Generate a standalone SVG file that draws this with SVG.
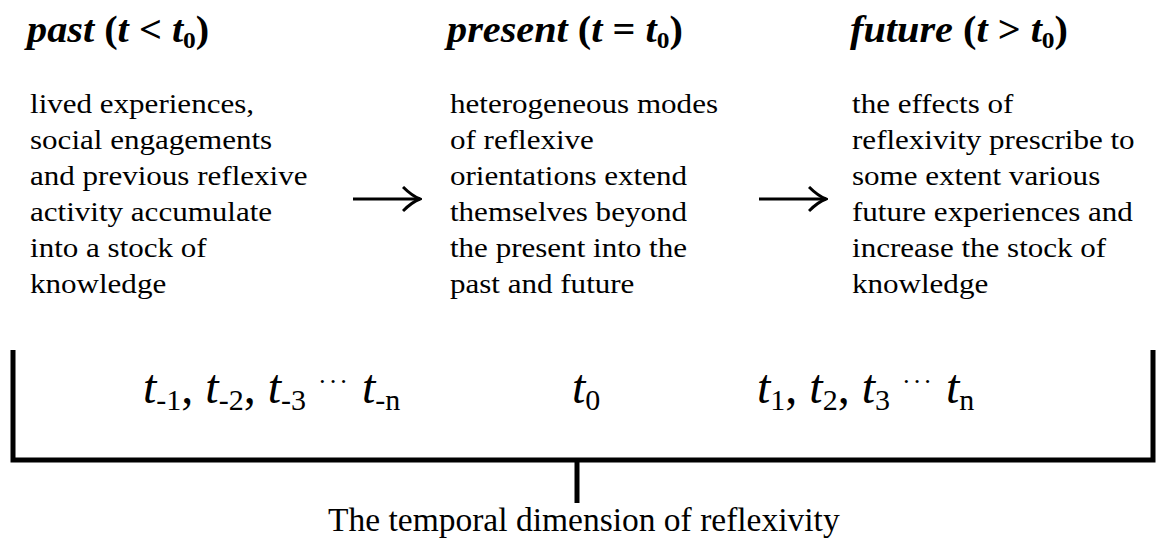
<svg xmlns="http://www.w3.org/2000/svg" width="1158" height="542" viewBox="0 0 1158 542">
<style>
.h{font-family:"Liberation Serif","Times New Roman",serif;font-size:38px;font-weight:bold;fill:#000}
.hi{font-style:italic}
.b{font-family:"Liberation Serif","Times New Roman",serif;font-size:27px;fill:#000}
.t{font-family:"Liberation Serif","Times New Roman",serif;font-size:48px;fill:#000}
.cap{font-family:"Liberation Serif","Times New Roman",serif;font-size:33.5px;fill:#000}
.ln{stroke:#000;stroke-width:5;fill:none}
.ar{stroke:#000;stroke-width:3;fill:none}
.dots{font-size:26px;letter-spacing:2px}
</style>
<defs>
<marker id="ah" markerWidth="20" markerHeight="28" refX="18" refY="13" orient="auto" markerUnits="userSpaceOnUse">
<path d="M1,1 Q10,10 18,13 Q10,16 1,25" fill="none" stroke="#000" stroke-width="3"/>
</marker>
</defs>
<g id="past">
<text class="h" transform="scale(1.06,1)" x="25.5" y="42"><tspan class="hi">past</tspan> (<tspan class="hi">t</tspan> &lt; <tspan class="hi">t</tspan><tspan font-size="24" dy="6">0</tspan><tspan dy="-6">)</tspan></text>
<g transform="scale(1.15,1)">
<text class="b" x="26.1" y="113">lived experiences,</text>
<text class="b" x="26.1" y="149">social engagements</text>
<text class="b" x="26.1" y="185">and previous reflexive</text>
<text class="b" x="26.1" y="221">activity accumulate</text>
<text class="b" x="26.1" y="257">into a stock of</text>
<text class="b" x="26.1" y="293">knowledge</text>
</g>
</g>
<g id="present">
<text class="h" transform="scale(1.06,1)" x="421.7" y="42"><tspan class="hi">present</tspan> (<tspan class="hi">t</tspan> = <tspan class="hi">t</tspan><tspan font-size="24" dy="6">0</tspan><tspan dy="-6">)</tspan></text>
<g transform="scale(1.15,1)">
<text class="b" x="391.3" y="113">heterogeneous modes</text>
<text class="b" x="391.3" y="149">of reflexive</text>
<text class="b" x="391.3" y="185">orientations extend</text>
<text class="b" x="391.3" y="221">themselves beyond</text>
<text class="b" x="391.3" y="257">the present into the</text>
<text class="b" x="391.3" y="293">past and future</text>
</g>
</g>
<g id="future">
<text class="h" transform="scale(1.06,1)" x="801.9" y="42"><tspan class="hi">future</tspan> (<tspan class="hi">t</tspan> &gt; <tspan class="hi">t</tspan><tspan font-size="24" dy="6">0</tspan><tspan dy="-6">)</tspan></text>
<g transform="scale(1.15,1)">
<text class="b" x="740.9" y="113">the effects of</text>
<text class="b" x="740.9" y="149">reflexivity prescribe to</text>
<text class="b" x="740.9" y="185">some extent various</text>
<text class="b" x="740.9" y="221">future experiences and</text>
<text class="b" x="740.9" y="257">increase the stock of</text>
<text class="b" x="740.9" y="293">knowledge</text>
</g>
</g>
<g id="connectors">
<path class="ar" d="M353,199 H420" marker-end="url(#ah)"/>
<path class="ar" d="M759,199 H826" marker-end="url(#ah)"/>
</g>
<g id="bracket">
<path class="ln" d="M13,350 V460 H1153 V350"/>
<path class="ln" d="M577,460 V503"/>
</g>
<g id="timepoints">
<text class="t" x="143" y="403"><tspan font-style="italic">t</tspan><tspan font-size="30" dy="7">-1</tspan><tspan dy="-7">, </tspan><tspan font-style="italic">t</tspan><tspan font-size="30" dy="7">-2</tspan><tspan dy="-7">, </tspan><tspan font-style="italic">t</tspan><tspan font-size="30" dy="7">-3</tspan><tspan dy="-7"> </tspan><tspan class="dots" dy="-13">···</tspan><tspan dy="13"> </tspan><tspan font-style="italic">t</tspan><tspan font-size="30" dy="7">-n</tspan></text>
<text class="t" x="572" y="403"><tspan font-style="italic">t</tspan><tspan font-size="30" dy="7">0</tspan></text>
<text class="t" x="757" y="403"><tspan font-style="italic">t</tspan><tspan font-size="30" dy="7">1</tspan><tspan dy="-7">, </tspan><tspan font-style="italic">t</tspan><tspan font-size="30" dy="7">2</tspan><tspan dy="-7">, </tspan><tspan font-style="italic">t</tspan><tspan font-size="30" dy="7">3</tspan><tspan dy="-7"> </tspan><tspan class="dots" dy="-13">···</tspan><tspan dy="13"> </tspan><tspan font-style="italic">t</tspan><tspan font-size="30" dy="7">n</tspan></text>
</g>
<text class="cap" x="328" y="531">The temporal dimension of reflexivity</text>
</svg>
